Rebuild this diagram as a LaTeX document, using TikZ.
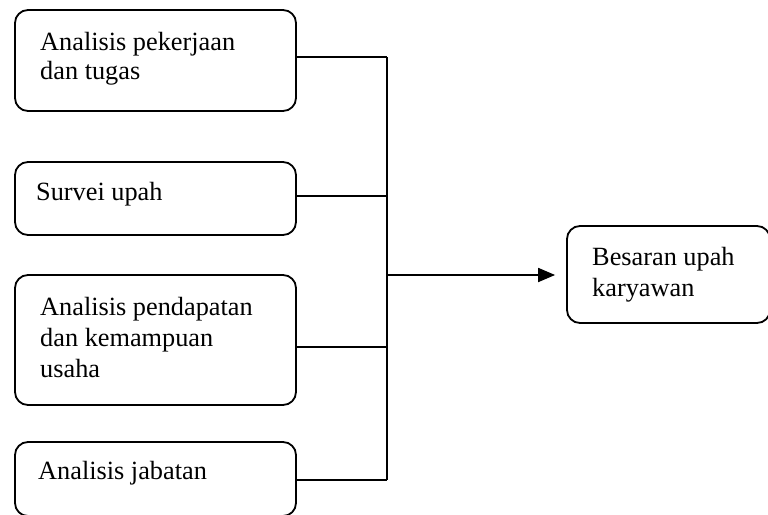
\documentclass[tikz,border=0pt]{standalone}
\usepackage{fontspec}
\setmainfont{Liberation Serif}
\usetikzlibrary{arrows.meta}
\begin{document}
\begin{tikzpicture}[x=1pt,y=-1pt,
  box/.style={draw, line width=1.8pt, rounded corners=13pt, inner sep=0pt, minimum width=281pt},
  txt/.style={anchor=base west, inner sep=0pt, font=\fontsize{26.3}{31}\selectfont},
  conn/.style={line width=1.8pt},
  arr/.style={line width=1.8pt, -{Triangle[length=17pt,width=14pt]}}]
\useasboundingbox (0,0) rectangle (768,514);
\clip (0,0) rectangle (768,514);
% boxes
\node[box, minimum height=101pt] (b1) at (155.5,60.5) {};
\node[box, minimum height=73pt] (b2) at (155.5,198.5) {};
\node[box, minimum height=130pt] (b3) at (155.5,340) {};
\node[box, minimum height=74pt] (b4) at (155.5,479) {};
\node[box, minimum width=203pt, minimum height=97pt] (out) at (668.5,274.5) {};
% texts
\node[txt] (t1) at (40,50) {\vtop{\baselineskip=29.5pt\hbox{Analisis pekerjaan}\hbox{dan tugas}}};
\node[txt] (t2) at (36,200) {Survei upah};
\node[txt] (t3) at (40,315) {\vtop{\hbox{Analisis pendapatan}\hbox{dan kemampuan}\hbox{usaha}}};
\node[txt] (t4) at (38,479) {Analisis jabatan};
\node[txt] (t5) at (592,265) {\vtop{\baselineskip=31.5pt\hbox{Besaran upah}\hbox{karyawan}}};
% trunk coordinates
\coordinate (j1) at (387,57);
\coordinate (j2) at (387,196);
\coordinate (j3) at (387,347);
\coordinate (j4) at (387,480);
\coordinate (jm) at (387,275);
% connectors
\draw[conn] (b1.east |- j1) -- (j1);
\draw[conn] (b2.east |- j2) -- (j2);
\draw[conn] (b3.east |- j3) -- (j3);
\draw[conn] (b4.east |- j4) -- (j4);
\draw[conn] (j1) -- (j4);
\draw[arr, shorten >=11pt] (jm) -- (out.west |- jm);
\end{tikzpicture}
\end{document}
